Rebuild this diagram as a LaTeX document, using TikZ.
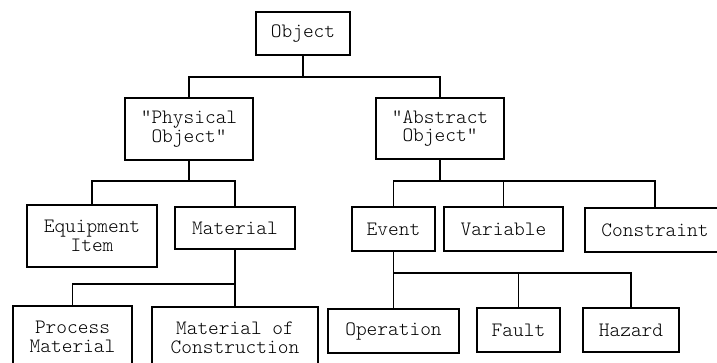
\documentclass[tikz,border=0pt]{standalone}
\usepackage{fontspec}
\setmonofont{Latin Modern Mono Light}
\begin{document}
\begin{tikzpicture}[x=1pt,y=-1pt,
  box/.style={draw, line width=1.5pt, rectangle, inner sep=0pt, align=center,
    font=\ttfamily\fontsize{20.4}{18.5}\selectfont},
  link/.style={line width=1.5pt}]
\useasboundingbox (0,0) rectangle (717,362);
\clip (0,0) rectangle (717,362);

% boxes
\node[box, minimum width=94pt,  minimum height=43pt] (obj)   at (303,33.5)  {Object};
\node[box, minimum width=128pt, minimum height=62pt] (phys)  at (189,129)   {"Physical\\Object"};
\node[box, minimum width=128pt, minimum height=61pt] (abs)   at (440,128.5) {"Abstract\\Object"};
\node[box, minimum width=130pt, minimum height=62pt] (equip) at (92,236)    {Equipment\\Item};
\node[box, minimum width=120pt, minimum height=42pt] (mat)   at (235,228)   {Material};
\node[box, minimum width=83pt,  minimum height=44pt] (event) at (393.5,229) {Event};
\node[box, minimum width=119pt, minimum height=44pt] (var)   at (503.5,229) {Variable};
\node[box, minimum width=140pt, minimum height=44pt] (cons)  at (655,230)   {Constraint};
\node[box, minimum width=119pt, minimum height=62pt] (proc)  at (72.5,337)  {Process\\Material};
\node[box, minimum width=166pt, minimum height=62pt] (mcon)  at (235,338)   {Material of\\Construction};
\node[box, minimum width=131pt, minimum height=44pt] (oper)  at (393.5,331) {Operation};
\node[box, minimum width=83pt,  minimum height=44pt] (fault) at (518.5,330) {Fault};
\node[box, minimum width=96pt,  minimum height=44pt] (haz)   at (631,330)   {Hazard};

% branch points
\coordinate (b0) at (303,77);
\coordinate (b1) at (189,181);
\coordinate (b2) at (440,181);
\coordinate (b3) at (234,284);
\coordinate (b4) at (394,273);

% connectors
\draw[link] (obj.south) -- (b0);
\draw[link] (b0) -| (phys.north);
\draw[link] (b0) -| (abs.north);

\draw[link] (phys.south) -- (b1);
\draw[link] (b1) -| (equip.north);
\draw[link] (b1) -| (mat.north);

\draw[link] (abs.south) -- (b2);
\draw[link] (b2) -| (event.north);
\draw[link] (b2) -| (var.north);
\draw[link] (b2) -| (cons.north);

\draw[link] (mat.south) |- (b3);
\draw[link] (b3) -| (proc.north);
\draw[link] (b3) -| (mcon.north);

\draw[link] (event.south) |- (b4);
\draw[link] (b4) -| (oper.north);
\draw[link] (b4) -| (fault.north);
\draw[link] (b4) -| (haz.north);
\end{tikzpicture}
\end{document}
